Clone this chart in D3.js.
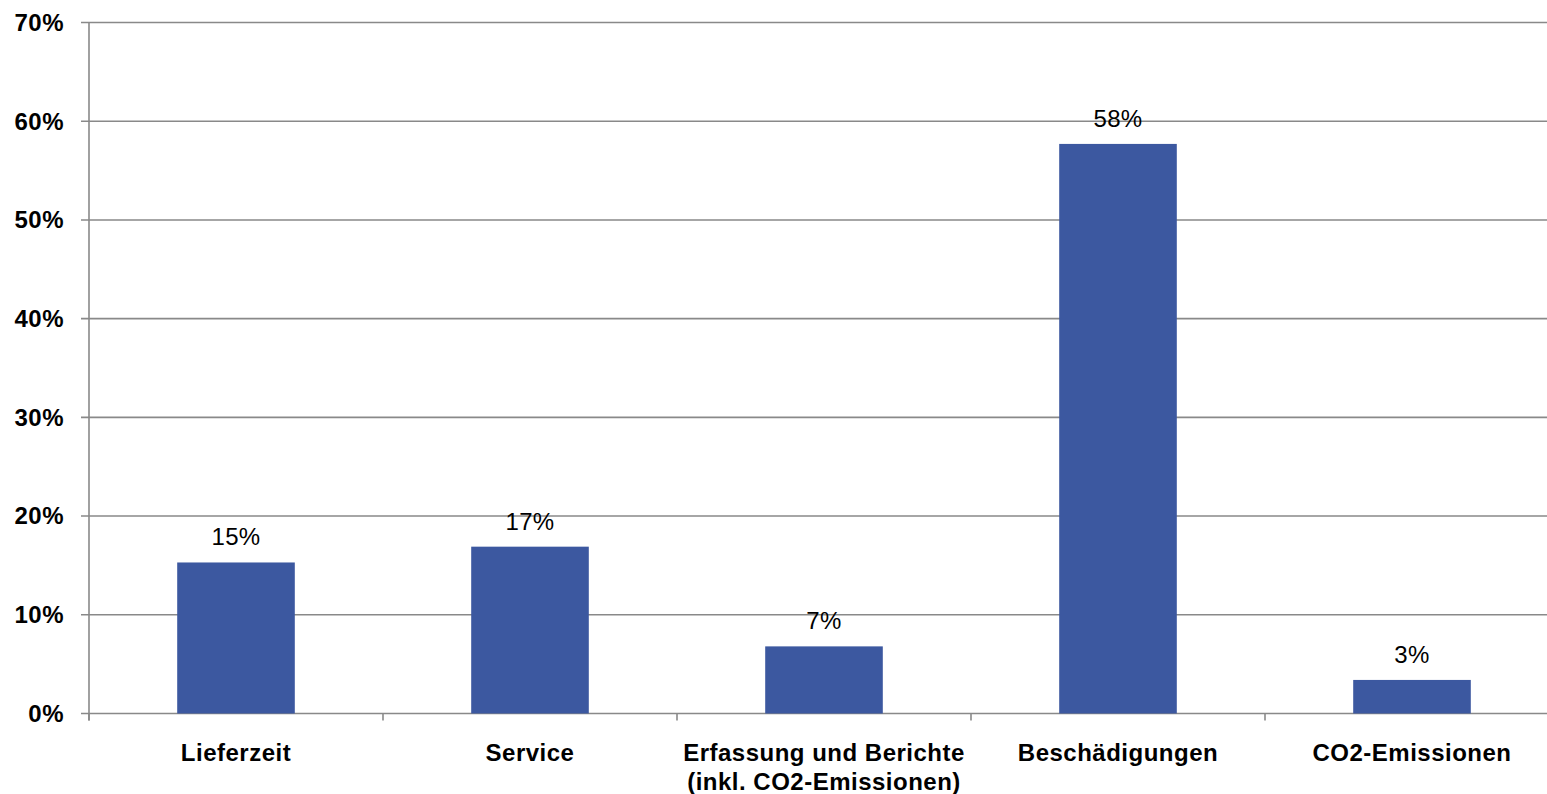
<!DOCTYPE html>
<html>
<head>
<meta charset="utf-8">
<script src="https://cdn.jsdelivr.net/npm/d3@7"></script>
<style>
  html, body { margin: 0; padding: 0; background: #fff; overflow: hidden; }
  svg { display: block; }
  text { font-family: "Liberation Sans", Arial, sans-serif; }
</style>
</head>
<body>
<svg id="chart" width="1547" height="794"></svg>
<script>
const categories = [
  ["Lieferzeit"],
  ["Service"],
  ["Erfassung und Berichte", "(inkl. CO2-Emissionen)"],
  ["Beschädigungen"],
  ["CO2-Emissionen"]
];
const values = [15.3, 16.9, 6.8, 57.7, 3.4];
const valueLabels = ["15%", "17%", "7%", "58%", "3%"];
const yTicks = [0, 10, 20, 30, 40, 50, 60, 70];
const yTickLabels = ["0%", "10%", "20%", "30%", "40%", "50%", "60%", "70%"];

(function () {
const svg = d3.select("#chart");
const mLeft = 89, mRight = 1559, mTop = 22.5, mBottom = 713.5;
const gridColor = "#898989";

const x = d3.scaleBand().domain(d3.range(categories.length)).range([mLeft, mRight]).paddingInner(0).paddingOuter(0);
const y = d3.scaleLinear().domain([0, 70]).range([mBottom, mTop]);
const barW = x.bandwidth() / 2.5;

// gridlines
svg.append("g").selectAll("line").data(yTicks).join("line")
  .attr("x1", mLeft - 8).attr("x2", mRight)
  .attr("y1", d => y(d)).attr("y2", d => y(d))
  .attr("stroke", gridColor).attr("stroke-width", 1.6);

// y axis line
svg.append("line").attr("x1", mLeft).attr("x2", mLeft).attr("y1", mTop).attr("y2", mBottom + 7)
  .attr("stroke", gridColor).attr("stroke-width", 1.6);

// y tick labels
svg.append("g").selectAll("text").data(yTicks).join("text")
  .attr("x", mLeft - 25).attr("y", d => y(d))
  .attr("dy", "0.35em").attr("text-anchor", "end")
  .attr("font-size", 24).attr("font-weight", "bold").attr("letter-spacing", 0.5).attr("fill", "#000")
  .text((d, i) => yTickLabels[i]);

// category ticks
const tickXs = d3.range(categories.length + 1).map(i => i < categories.length ? x(i) : x(categories.length - 1) + x.bandwidth());
svg.append("g").selectAll("line").data(tickXs).join("line")
  .attr("x1", d => d).attr("x2", d => d)
  .attr("y1", mBottom).attr("y2", mBottom + 7)
  .attr("stroke", gridColor).attr("stroke-width", 1.6);

// bars
svg.append("g").selectAll("rect").data(values).join("rect")
  .attr("x", (d, i) => x(i) + (x.bandwidth() - barW) / 2)
  .attr("width", barW)
  .attr("y", d => y(d))
  .attr("height", d => mBottom - y(d))
  .attr("fill", "#3c58a0");

// value labels
svg.append("g").selectAll("text").data(values).join("text")
  .attr("x", (d, i) => x(i) + x.bandwidth() / 2)
  .attr("y", d => y(d) - 17)
  .attr("text-anchor", "middle")
  .attr("font-size", 24).attr("letter-spacing", 0.3).attr("fill", "#000")
  .text((d, i) => valueLabels[i]);

// category labels
const cat = svg.append("g").selectAll("text").data(categories).join("text")
  .attr("x", (d, i) => x(i) + x.bandwidth() / 2)
  .attr("y", 761)
  .attr("text-anchor", "middle")
  .attr("font-size", 24).attr("font-weight", "bold").attr("letter-spacing", 0.5).attr("fill", "#000");
cat.selectAll("tspan").data(d => d).join("tspan")
  .attr("x", function () { return d3.select(this.parentNode).attr("x"); })
  .attr("dy", (d, i) => i === 0 ? 0 : 29)
  .text(d => d);
})();
</script>
</body>
</html>
